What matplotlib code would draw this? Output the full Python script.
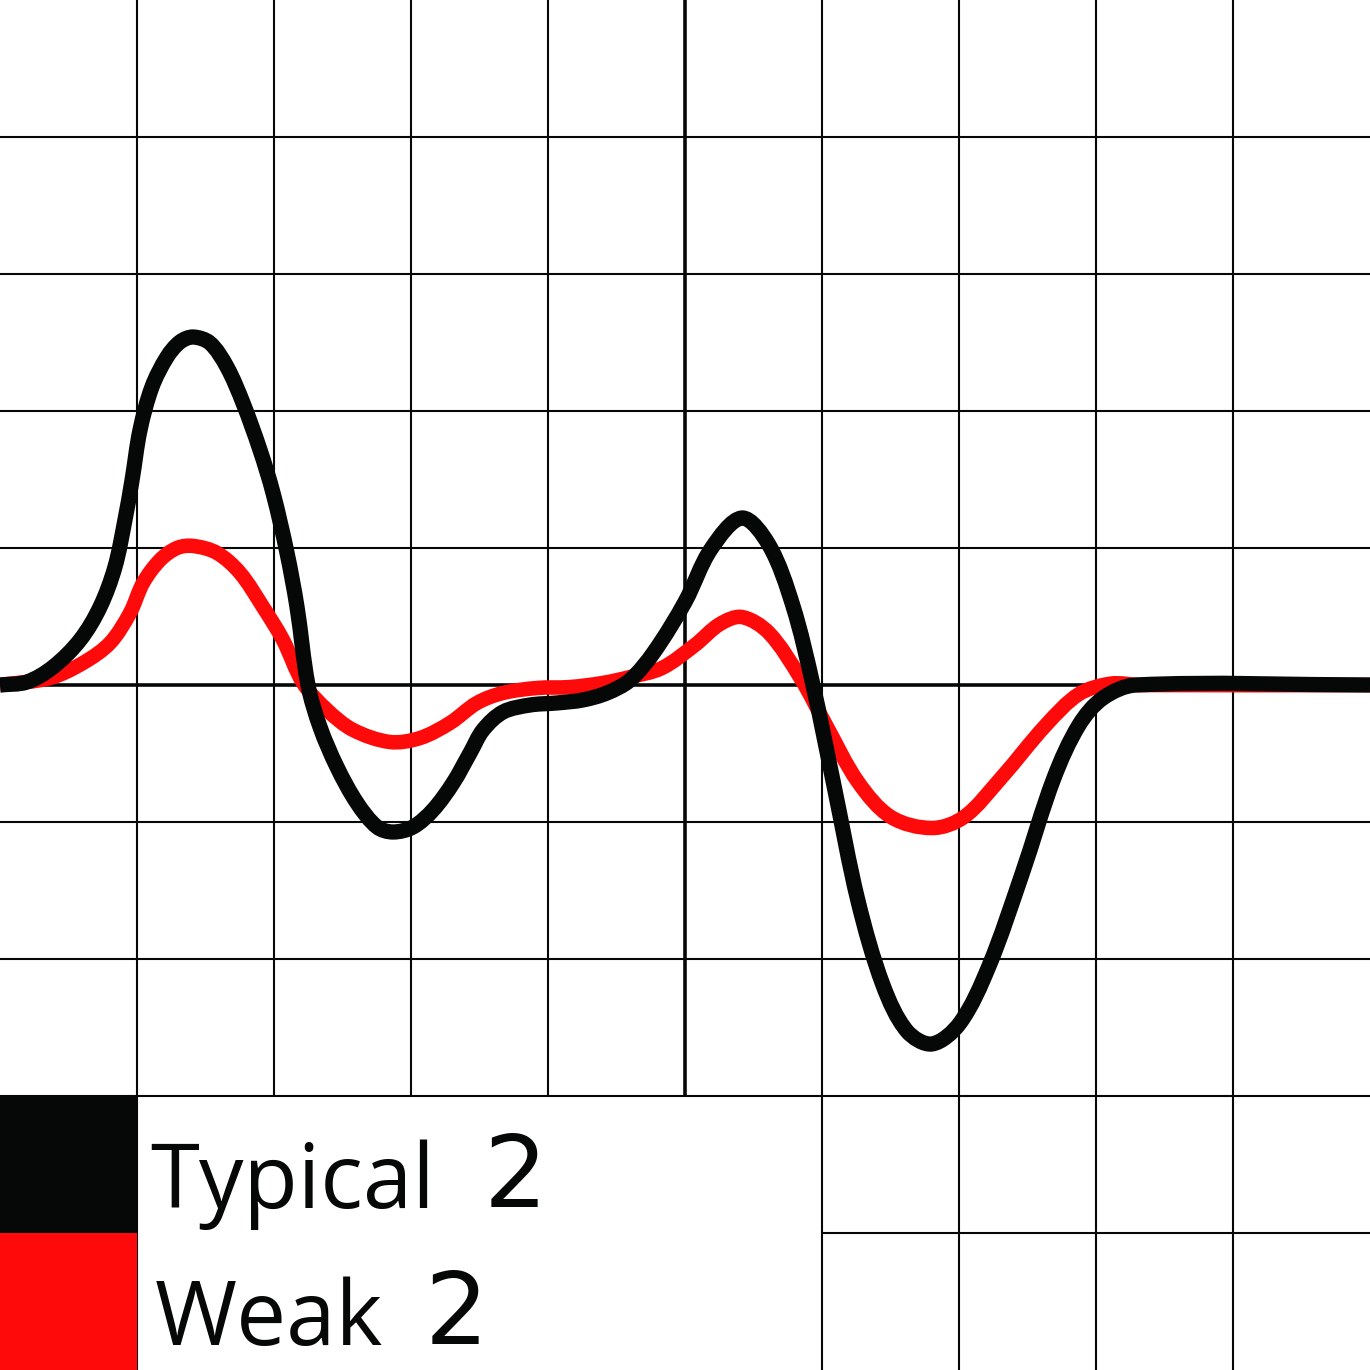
import numpy as np
import matplotlib
matplotlib.use("Agg")
import matplotlib.pyplot as plt
from matplotlib.patches import Rectangle, PathPatch
from matplotlib.path import Path

# curves, in grid cells (x: 0..10, y: -5..5, axis at 0)
typical_x = [0.0, 0.197, 0.387, 0.584, 0.730, 0.839, 0.912, 0.964, 1.022, 1.109,
             1.219, 1.314, 1.409, 1.533, 1.657, 1.774, 1.898, 1.993, 2.095, 2.168,
             2.248, 2.336, 2.460, 2.606, 2.752, 2.869, 3.015, 3.161, 3.307, 3.431,
             3.526, 3.672, 3.869, 4.066, 4.255, 4.431, 4.599, 4.774, 5.0, 5.190,
             5.416, 5.613, 5.788, 5.934, 6.088, 6.263, 6.445, 6.620, 6.803, 7.007,
             7.219, 7.460, 7.693, 7.876, 8.051, 8.292, 10.0]
typical_y = [0.0, 0.022, 0.131, 0.328, 0.569, 0.861, 1.204, 1.496, 1.861, 2.175,
             2.394, 2.504, 2.540, 2.496, 2.321, 2.058, 1.715, 1.401, 0.964, 0.569,
             0.0, -0.307, -0.599, -0.861, -1.036, -1.073, -1.036, -0.912, -0.715, -0.496,
             -0.328, -0.197, -0.146, -0.131, -0.109, -0.058, 0.036, 0.241, 0.606, 0.993,
             1.219, 1.022, 0.577, 0.0, -0.737, -1.577, -2.190, -2.526, -2.620, -2.467,
             -2.051, -1.380, -0.679, -0.292, -0.095, 0.0, 0.0]

weak_x = [0.0, 0.365, 0.606, 0.803, 0.949, 1.044, 1.168, 1.292, 1.409, 1.584,
          1.752, 1.920, 2.066, 2.212, 2.387, 2.577, 2.847, 3.066, 3.285, 3.482,
          3.672, 3.920, 4.161, 4.401, 4.599, 4.832, 5.073, 5.255, 5.416, 5.613,
          5.847, 6.029, 6.263, 6.504, 6.803, 7.036, 7.307, 7.635, 7.876, 8.109,
          8.321, 10.0]
weak_y = [0.0, 0.051, 0.161, 0.307, 0.526, 0.745, 0.912, 1.000, 1.015, 0.964,
          0.818, 0.569, 0.328, 0.015, -0.182, -0.328, -0.416, -0.387, -0.277, -0.131,
          -0.058, -0.022, -0.015, 0.015, 0.058, 0.124, 0.292, 0.445, 0.496, 0.380,
          0.044, -0.292, -0.708, -0.964, -1.044, -0.964, -0.679, -0.292, -0.066, 0.010,
          0.0, 0.0]

legend_labels = ["Typical", "Weak"]
legend_marks = ["2", "2"]
ink = "#050806"
red = "#ff0a0a"


def smooth_path(xs, ys):
    # bezier path through the points (chord-length catmull-rom tangents)
    p = np.column_stack([xs, ys])
    d = np.r_[0, np.cumsum(np.hypot(*np.diff(p, axis=0).T))]
    n = len(p)
    tang = np.zeros_like(p)
    for i in range(n):
        a, b = max(i - 1, 0), min(i + 1, n - 1)
        tang[i] = (p[b] - p[a]) / (d[b] - d[a])
    verts = [p[0]]
    codes = [Path.MOVETO]
    for i in range(n - 1):
        h = d[i + 1] - d[i]
        verts += [p[i] + tang[i] * h / 3, p[i + 1] - tang[i + 1] * h / 3, p[i + 1]]
        codes += [Path.CURVE4] * 3
    return Path(verts, codes)


fig = plt.figure(figsize=(13.7, 13.7), dpi=100)
ax = fig.add_axes([0, 0, 1, 1])
ax.set_xlim(0, 10)
ax.set_ylim(-5, 5)
ax.axis("off")

# grid, with the legend box cutting out part of it
vx = [1, 2, 3, 4, 6, 7, 8, 9]
vbottom = [-5, -3, -3, -3, -5, -5, -5, -5]
ax.vlines(vx, vbottom, 5, color=ink, lw=1.5, zorder=1)
ax.vlines(5, -3, 5, color=ink, lw=2.6, zorder=1)
hy = [4, 3, 2, 1, -1, -2, -3]
ax.hlines(hy, 0, 10, color=ink, lw=1.5, zorder=1)
ax.hlines(-4, 6, 10, color=ink, lw=1.5, zorder=1)
ax.hlines(0, 0, 10, color=ink, lw=2.6, zorder=1)

ax.add_patch(PathPatch(smooth_path(weak_x, weak_y), facecolor="none",
                       edgecolor=red, lw=10.5, joinstyle="round",
                       capstyle="butt", zorder=3))
ax.add_patch(PathPatch(smooth_path(typical_x, typical_y), facecolor="none",
                       edgecolor=ink, lw=11, joinstyle="round",
                       capstyle="butt", zorder=4))

# legend
ax.add_patch(Rectangle((0, -4), 1, 1, facecolor=ink, edgecolor="none", zorder=5))
ax.add_patch(Rectangle((0, -5), 1, 1, facecolor=red, edgecolor="none", zorder=5))
ax.text(1.10, -3.818, legend_labels[0], fontsize=64, family="Open Sans",
        color=ink, va="baseline", ha="left", zorder=6)
ax.text(3.53, -3.81, legend_marks[0], fontsize=72, family="DejaVu Sans",
        color=ink, va="baseline", ha="left", zorder=6)
ax.text(1.13, -4.818, legend_labels[1], fontsize=64, family="Open Sans",
        color=ink, va="baseline", ha="left", zorder=6)
ax.text(3.10, -4.81, legend_marks[1], fontsize=72, family="DejaVu Sans",
        color=ink, va="baseline", ha="left", zorder=6)

fig.savefig("out.png", dpi=100, facecolor="white")
